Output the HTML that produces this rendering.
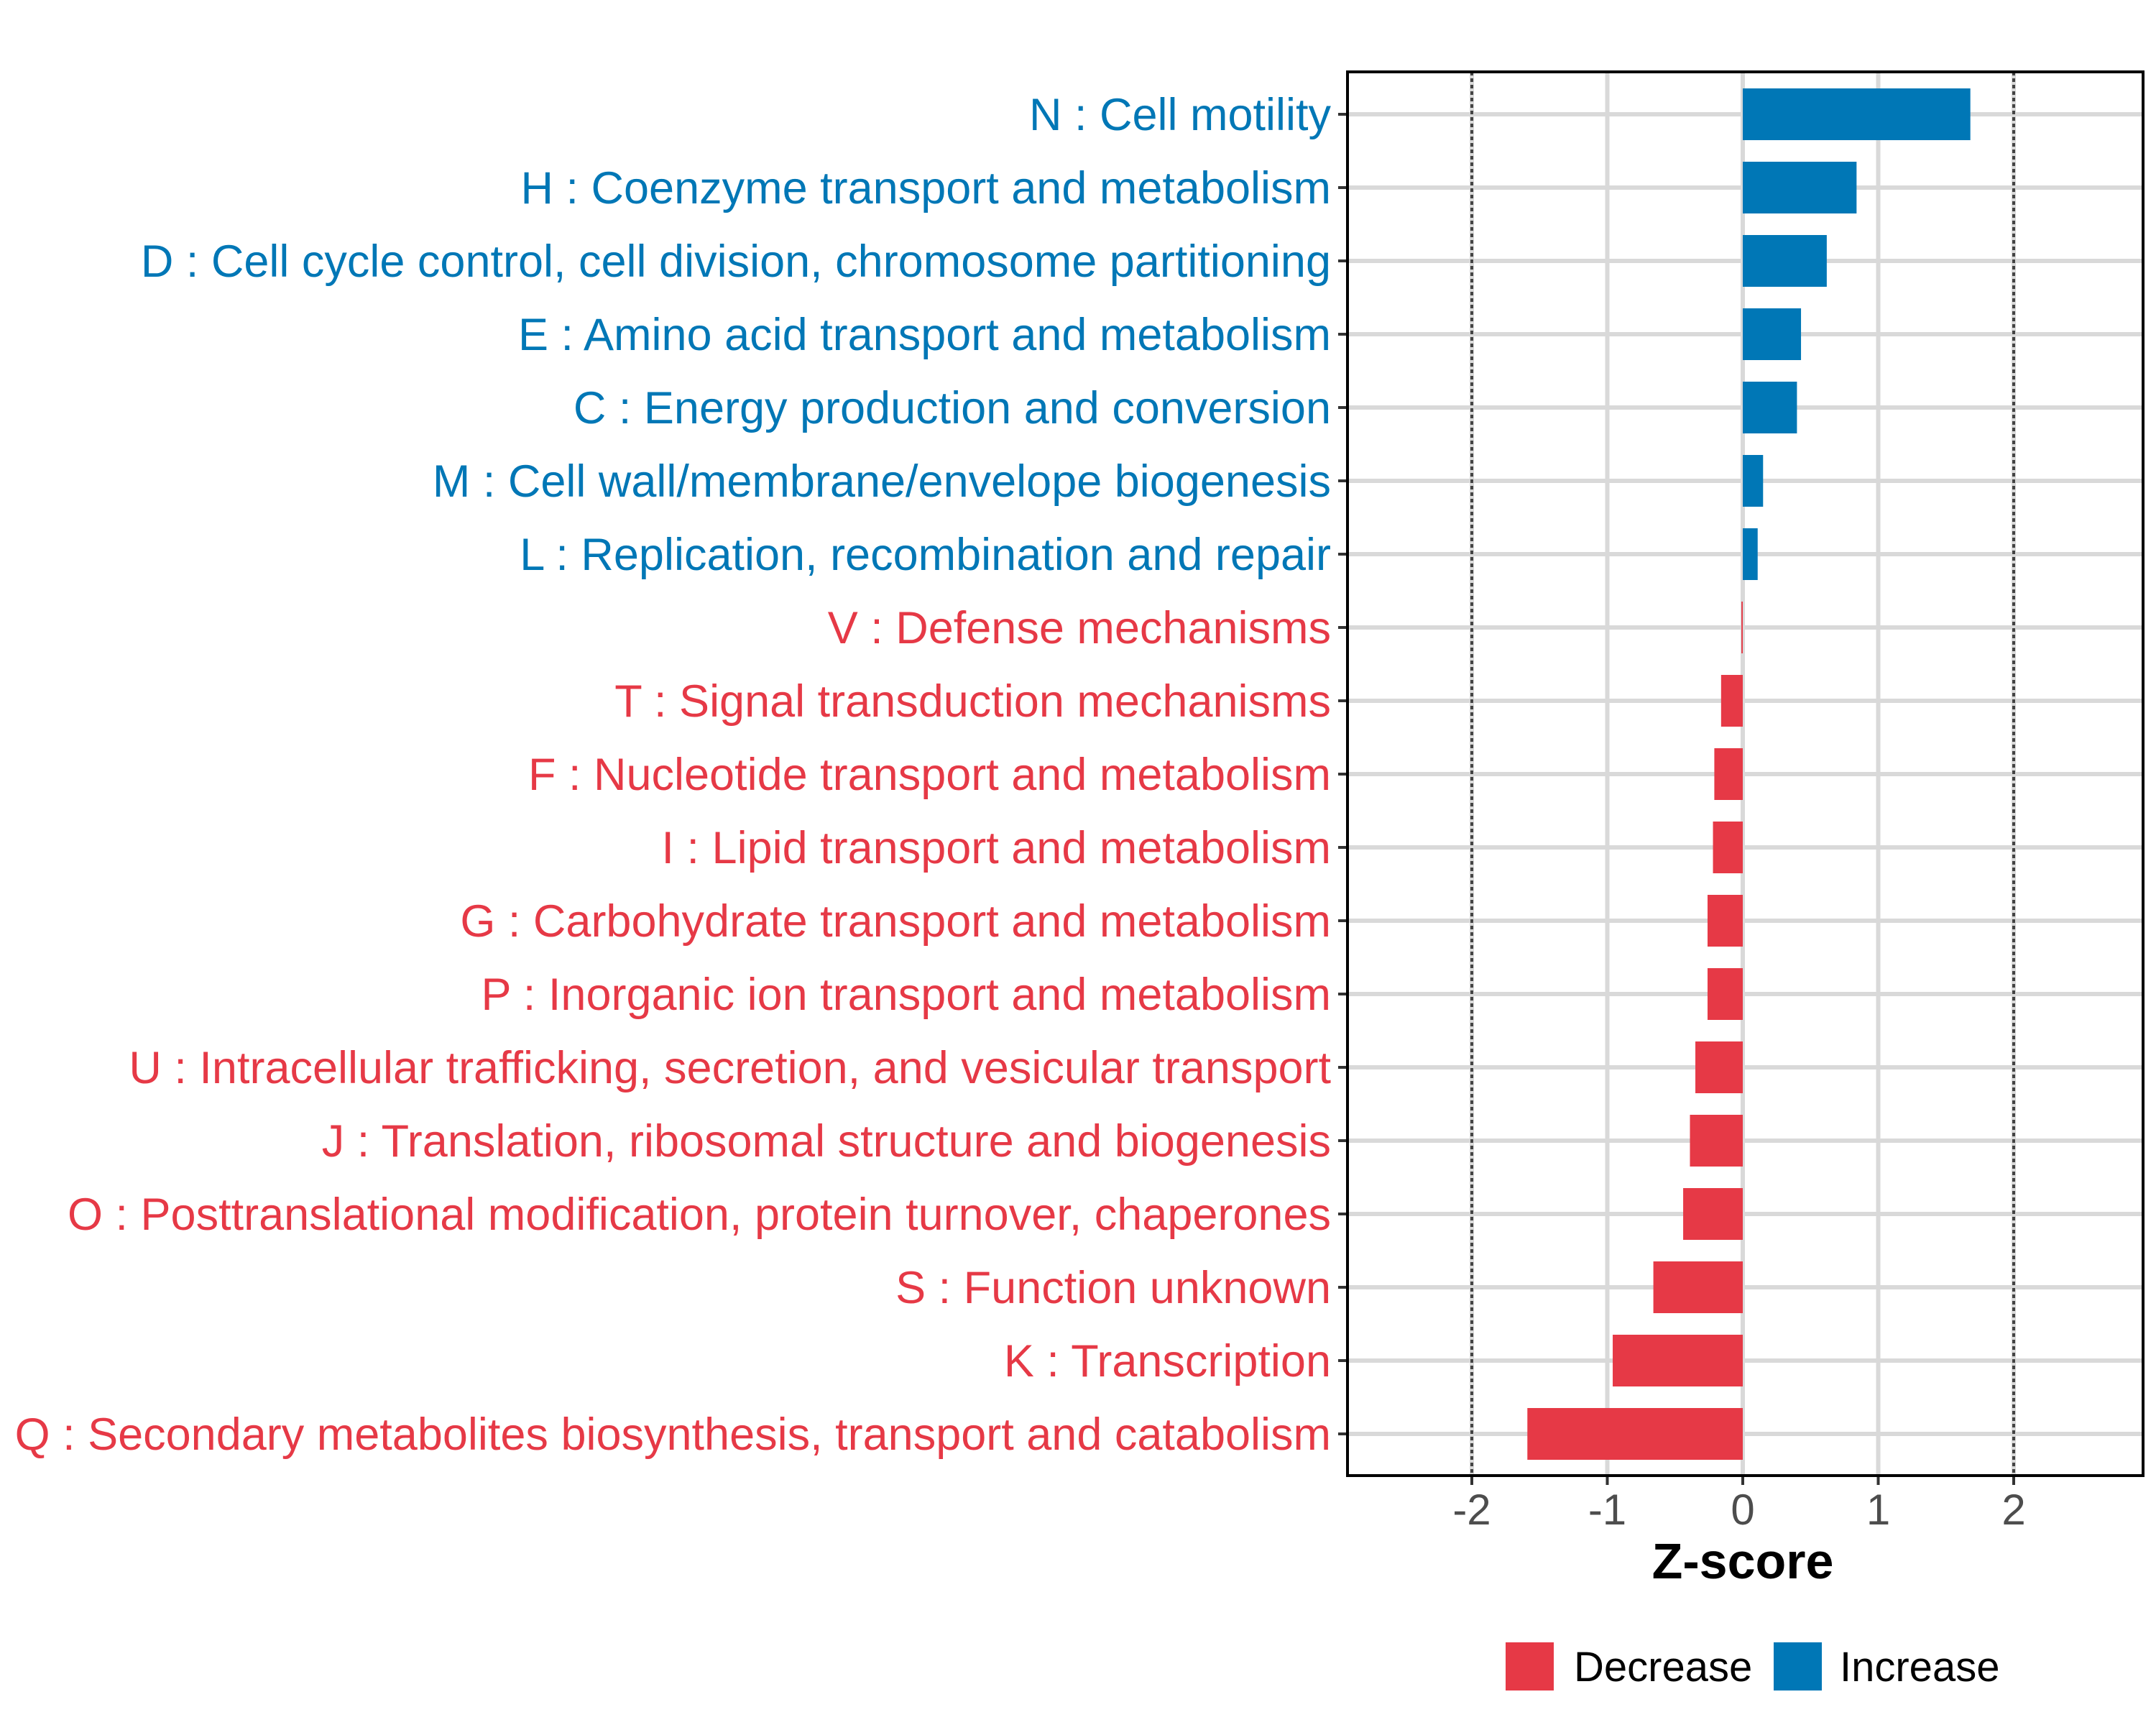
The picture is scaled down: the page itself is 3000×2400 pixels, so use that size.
<!DOCTYPE html>
<html><head><meta charset="utf-8"><style>html,body{margin:0;padding:0;background:#fff}svg{display:block}</style></head>
<body>
<svg id="chart" width="3000" height="2400" viewBox="0 0 3000 2400" xmlns="http://www.w3.org/2000/svg" font-family="Liberation Sans, Arial, sans-serif">
<rect width="3000" height="2400" fill="#fff"/>
<g id="grid"></g><g id="bars"></g><g id="ylabels"></g><g id="xaxis"></g>
<rect x="1875" y="100" width="1107" height="1953" fill="none" stroke="#000" stroke-width="4"/>
<text x="2425" y="2196" font-size="70" font-weight="bold" text-anchor="middle">Z-score</text>
<g>
<rect x="2095" y="2285" width="67" height="67" fill="#e63946"/>
<text x="2190" y="2339" font-size="58">Decrease</text>
<rect x="2468" y="2285" width="67" height="67" fill="#0077b6"/>
<text x="2560" y="2339" font-size="58">Increase</text>
</g>
</svg>
<script>
const categories=["N : Cell motility","H : Coenzyme transport and metabolism","D : Cell cycle control, cell division, chromosome partitioning","E : Amino acid transport and metabolism","C : Energy production and conversion","M : Cell wall/membrane/envelope biogenesis","L : Replication, recombination and repair","V : Defense mechanisms","T : Signal transduction mechanisms","F : Nucleotide transport and metabolism","I : Lipid transport and metabolism","G : Carbohydrate transport and metabolism","P : Inorganic ion transport and metabolism","U : Intracellular trafficking, secretion, and vesicular transport","J : Translation, ribosomal structure and biogenesis","O : Posttranslational modification, protein turnover, chaperones","S : Function unknown","K : Transcription","Q : Secondary metabolites biosynthesis, transport and catabolism"];
const zscores=[1.68,0.84,0.62,0.43,0.40,0.15,0.11,-0.01,-0.16,-0.21,-0.22,-0.26,-0.26,-0.35,-0.39,-0.44,-0.66,-0.96,-1.59];
const xTicks=[-2,-1,0,1,2];
const NS="http://www.w3.org/2000/svg";
const X0=1875,X1=2982,Y0=100,Y1=2053;
const x=v=>2425+v*188.5;
const y=i=>159+i*102;
const BH=72;
function mk(t,a,p){const e=document.createElementNS(NS,t);for(const k in a)e.setAttribute(k,a[k]);p.appendChild(e);return e;}
const grid=document.getElementById('grid'),bars=document.getElementById('bars'),yl=document.getElementById('ylabels'),xa=document.getElementById('xaxis');
categories.forEach((c,i)=>{
 const g=mk('line',{x1:X0,x2:X1,y1:y(i),y2:y(i),stroke:'#d9d9d9','stroke-width':6},grid);
 
 
});
xTicks.forEach(t=>{
 const g=mk('line',{x1:x(t),x2:x(t),y1:Y0,y2:Y1,stroke:'#d9d9d9','stroke-width':6},grid);
 
 
});
categories.forEach((c,i)=>{
 const v=zscores[i],col=v>0?'#0077b6':'#e63946';
 const r=mk('rect',{x:Math.min(x(0),x(v)),y:y(i)-BH/2,width:Math.max(Math.abs(x(v)-x(0)),1.5),height:BH,fill:col},bars);
 
 
 const tk=mk('line',{x1:1862,x2:1875,y1:y(i),y2:y(i),stroke:'#333','stroke-width':4},yl);
 
 
 const t=mk('text',{x:1852,y:y(i)+22,'font-size':63,'text-anchor':'end',fill:col},yl);
 t.textContent=c;
 
 
});
[-2,2].forEach(t=>{
 const d=mk('line',{x1:x(t),x2:x(t),y1:Y0,y2:Y1,stroke:'#444','stroke-width':4,'stroke-dasharray':'5 4'},bars);
 
 
});
xTicks.forEach(t=>{
 const tk=mk('line',{x1:x(t),x2:x(t),y1:Y1,y2:Y1+13,stroke:'#333','stroke-width':4},xa);
 
 
 const l=mk('text',{x:x(t),y:2121,'font-size':60,'text-anchor':'middle',fill:'#4d4d4d'},xa);
 l.textContent=String(t);
 
 
});
</script>
</body></html>
